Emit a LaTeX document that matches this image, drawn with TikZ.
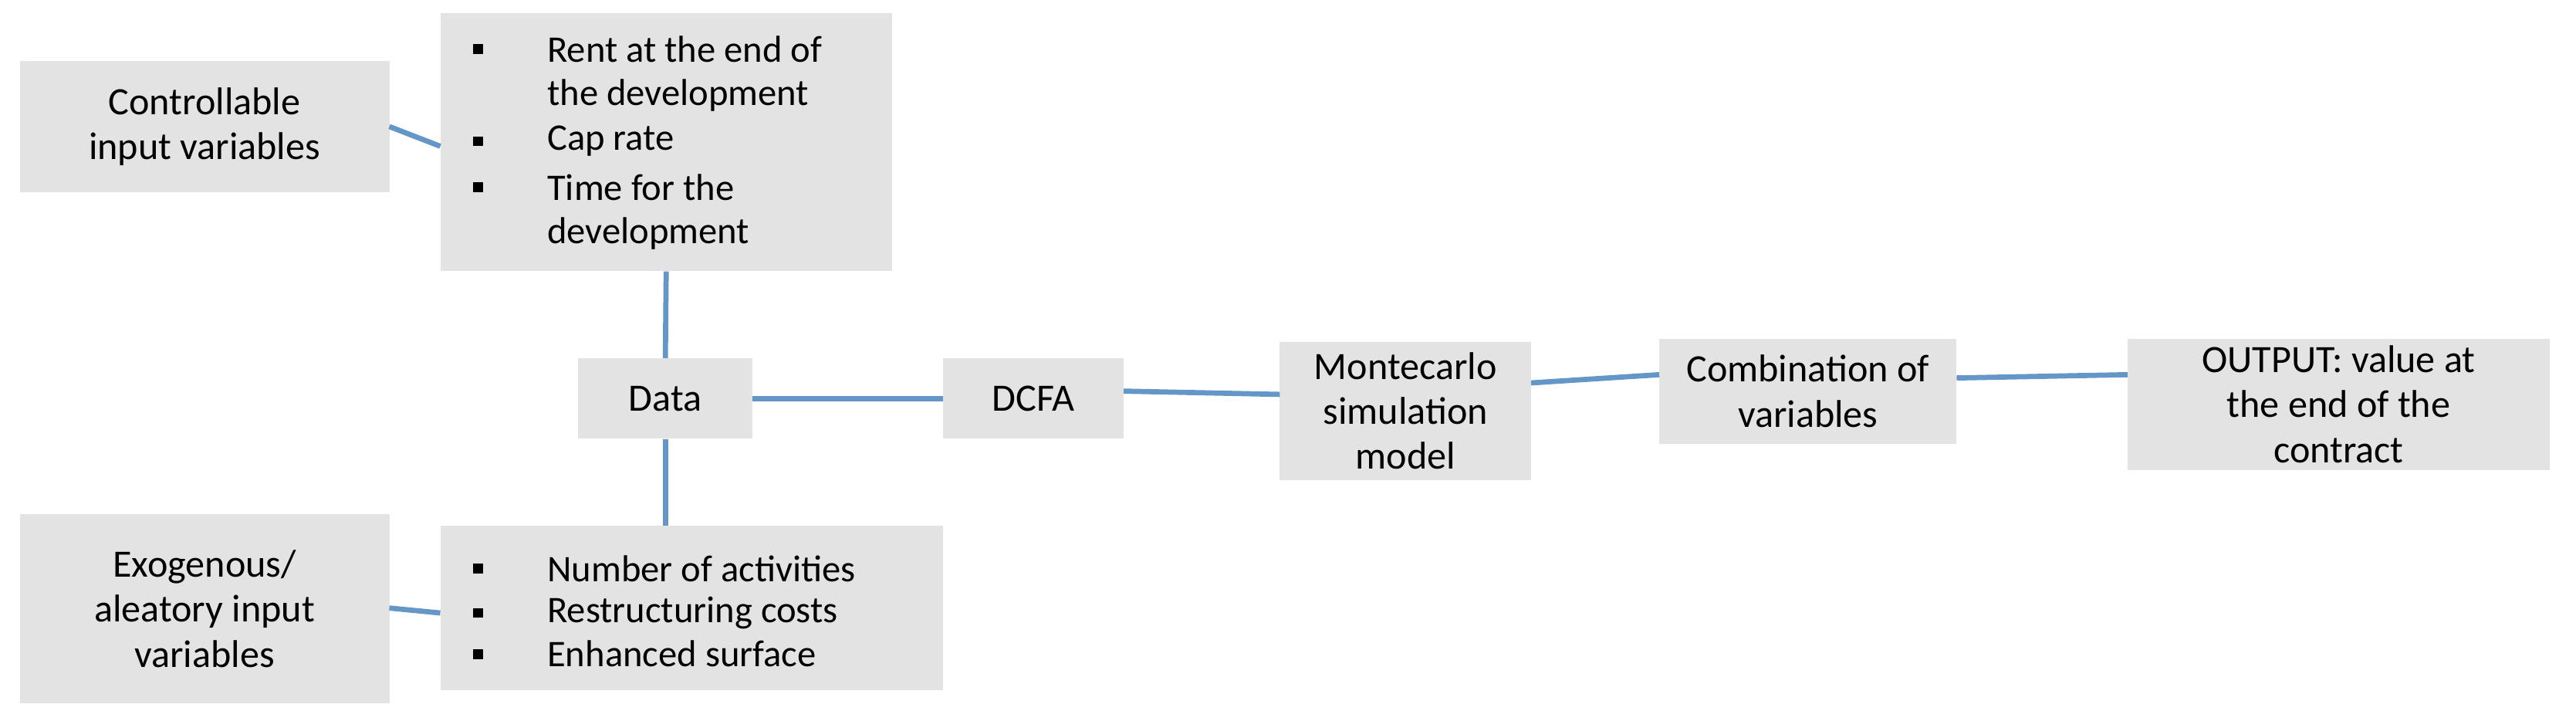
\documentclass[tikz,border=0pt]{standalone}
\usepackage{fontspec}
\setmainfont{Carlito}
\begin{document}
\begin{tikzpicture}[x=0.05cm,y=-0.05cm,
  box/.style={fill=gray!22,draw=none,inner sep=0pt,align=center,font=\fontsize{33.5}{39}\selectfont},
  txt/.style={anchor=west,inner sep=0pt,align=left,font=\fontsize{32.5}{39}\selectfont},
  ln/.style={draw={rgb,255:red,100;green,150;blue,200},line width=4.5pt}]
\useasboundingbox (0,0) rectangle (1568,438.7);
\node[box,minimum width=225*0.05cm,minimum height=80*0.05cm] (ctrl) at (124.5,77) {Controllable\\input variables};
\node[box,minimum width=275*0.05cm,minimum height=157*0.05cm] (top) at (405.5,86.5) {};
\node[box,minimum width=106*0.05cm,minimum height=49*0.05cm] (data) at (405,242.5) {Data};
\node[box,minimum width=110*0.05cm,minimum height=49*0.05cm] (dcfa) at (629,242.5) {DCFA};
\node[box,minimum width=153*0.05cm,minimum height=84*0.05cm] (mc) at (855.5,250) {Montecarlo\\simulation\\model};
\node[box,minimum width=181*0.05cm,minimum height=64*0.05cm] (comb) at (1100.5,238) {Combination of\\variables};
\node[box,minimum width=257*0.05cm,minimum height=80*0.05cm] (out) at (1423.5,246) {OUTPUT: value at\\the end of the\\contract};
\node[box,minimum width=225*0.05cm,minimum height=115*0.05cm] (exo) at (124.5,370.5) {Exogenous/\\aleatory input\\variables};
\node[box,minimum width=306*0.05cm,minimum height=100*0.05cm] (bot) at (421,370) {};
% bullets
\foreach \y in {30,86,114,346,373,398} \fill (288,\y-3) rectangle (294,\y+3);
\node[txt] (t1) at (333,30) {Rent at the end of};
\node[txt] (t2) at (333,58) {the development};
\node[txt] (t3) at (333,86) {Cap rate};
\node[txt] (t4) at (333,114) {Time for the};
\node[txt] (t5) at (333,142) {development};
\node[txt] (b1) at (333,346) {Number of activities};
\node[txt] (b2) at (333,373) {Restructuring costs};
\node[txt] (b3) at (333,398) {Enhanced surface};
% connectors
\coordinate (c1) at (237,77); \coordinate (c2) at (268,89);
\draw[ln] (c1) -- (c2);
\draw[ln] (top.south) -- (data.north);
\draw[ln] (data.south) -- (bot.north -| data.south);
\draw[ln] (data.east) -- (dcfa.west);
\coordinate (d1) at (684,238); \coordinate (d2) at (779,240);
\draw[ln] (d1) -- (d2);
\coordinate (m1) at (932,233); \coordinate (m2) at (1010,228);
\draw[ln] (m1) -- (m2);
\coordinate (o1) at (1191,230); \coordinate (o2) at (1295,228);
\draw[ln] (o1) -- (o2);
\coordinate (e1) at (237,370); \coordinate (e2) at (268,373);
\draw[ln] (e1) -- (e2);
\end{tikzpicture}
\end{document}
